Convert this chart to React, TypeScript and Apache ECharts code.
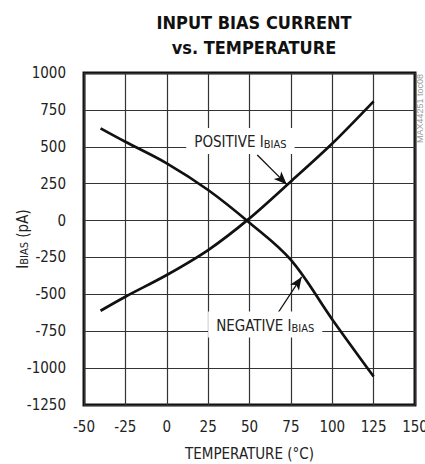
import React, { useEffect, useRef } from "react";
import * as echarts from "echarts";

const positiveTemps = [-40, -25, 0, 25, 50, 75, 100, 125];
const positiveBias = [-611, -516, -369, -200, 15, 265, 522, 808];

const negativeTemps = [-40, -25, 0, 25, 50, 75, 100, 125];
const negativeBias = [625, 534, 388, 207, -15, -267, -670, -1057];

const xTicks = { min: -50, max: 150, interval: 25 };
const yTicks = { min: -1250, max: 1000, interval: 250 };

// annotation anchors in data space: [temperature, pA]
const positiveLabelAt = [44.5, 540];
const positiveArrow = [[54.7, 444], [72.5, 245]];
const negativeLabelAt = [59.5, -705];
const negativeArrow = [[64.4, -674], [81.5, -382]];

const FONT = "'Liberation Sans Narrow', 'DejaVu Sans Condensed', 'Liberation Sans', sans-serif";

export default function App() {
  const ref = useRef<HTMLDivElement>(null);
  useEffect(() => {
    document.body.style.margin = "0";
    const chart = echarts.init(ref.current!, null, { renderer: "svg" });
    const richLabel = {
      m: { fontSize: 15, fontFamily: FONT, color: "#222", lineHeight: 18, verticalAlign: "bottom" },
      s: { fontSize: 11, fontFamily: FONT, color: "#222", lineHeight: 11, verticalAlign: "bottom" },
    };
    const annotationLabel = (text: string) => ({
      show: true,
      position: "inside",
      formatter: text,
      backgroundColor: "#fff",
      padding: [4, 8, 4, 8],
      rich: richLabel,
    });
    chart.setOption({
      animation: false,
      backgroundColor: "#fff",
      title: {
        text: "INPUT BIAS CURRENT\nvs. TEMPERATURE",
        left: 249,
        textAlign: "center",
        top: 5,
        textStyle: {
          fontFamily: FONT,
          fontWeight: "bold",
          fontSize: 18,
          lineHeight: 25,
          color: "#111",
        },
      },
      grid: {
        left: 84,
        right: 10,
        top: 73,
        bottom: 59,
        containLabel: false,
        outerBoundsMode: "none",
        show: true,
        borderColor: "#111",
        borderWidth: 3,
        backgroundColor: "transparent",
      },
      xAxis: {
        type: "value",
        min: xTicks.min,
        max: xTicks.max,
        interval: xTicks.interval,
        name: "TEMPERATURE (°C)",
        nameLocation: "middle",
        nameGap: 41,
        nameMoveOverlap: false,
        nameTextStyle: { fontFamily: FONT, fontSize: 15, color: "#222" },
        axisLine: { show: false },
        axisTick: { show: false },
        axisLabel: {
          fontFamily: FONT,
          fontSize: 15,
          color: "#222",
          margin: 14,
          showMinLabel: true,
          showMaxLabel: true,
          formatter: (v: number) => String(v),
        },
        splitLine: { show: true, lineStyle: { color: "#333", width: 1.2 } },
      },
      yAxis: {
        type: "value",
        min: yTicks.min,
        max: yTicks.max,
        interval: yTicks.interval,
        name: "{i|I}{s|BIAS}{i| (pA)}",
        nameLocation: "middle",
        nameGap: 54,
        nameMoveOverlap: false,
        nameTextStyle: {
          rich: {
            i: { fontFamily: FONT, fontSize: 15, color: "#222", lineHeight: 18, verticalAlign: "bottom" },
            s: { fontFamily: FONT, fontSize: 11, color: "#222", lineHeight: 11, verticalAlign: "bottom" },
          },
        },
        axisLine: { show: false },
        axisTick: { show: false },
        axisLabel: {
          fontFamily: FONT,
          fontSize: 15,
          color: "#222",
          margin: 18,
          formatter: (v: number) => String(v),
        },
        splitLine: { show: true, lineStyle: { color: "#333", width: 1.2 } },
      },
      graphic: [
        {
          type: "text",
          x: 420,
          y: 74,
          rotation: Math.PI / 2,
          style: {
            text: "MAX44251 toc08",
            fontFamily: "'Liberation Sans', sans-serif",
            fontSize: 9,
            fill: "#999",
            align: "right",
            verticalAlign: "middle",
          },
        },
      ],
      series: [
        {
          name: "POSITIVE",
          type: "line",
          data: positiveTemps.map((t, i) => [t, positiveBias[i]]),
          smooth: 0.3,
          symbol: "none",
          lineStyle: { color: "#111", width: 2.7 },
          z: 3,
          markLine: {
            silent: true,
            symbol: ["none", "arrow"],
            symbolSize: [8, 13],
            label: { show: false },
            lineStyle: { color: "#111", width: 1.3, type: "solid" },
            data: [[{ coord: positiveArrow[0] }, { coord: positiveArrow[1] }]],
          },
          markPoint: {
            silent: true,
            symbol: "rect",
            symbolSize: 1,
            itemStyle: { color: "transparent" },
            label: annotationLabel("{m|POSITIVE I}{s|BIAS}"),
            data: [{ coord: positiveLabelAt }],
          },
        },
        {
          name: "NEGATIVE",
          type: "line",
          data: negativeTemps.map((t, i) => [t, negativeBias[i]]),
          smooth: 0.35,
          symbol: "none",
          lineStyle: { color: "#111", width: 2.7 },
          z: 3,
          markLine: {
            silent: true,
            symbol: ["none", "arrow"],
            symbolSize: [8, 13],
            label: { show: false },
            lineStyle: { color: "#111", width: 1.3, type: "solid" },
            data: [[{ coord: negativeArrow[0] }, { coord: negativeArrow[1] }]],
          },
          markPoint: {
            silent: true,
            symbol: "rect",
            symbolSize: 1,
            itemStyle: { color: "transparent" },
            label: annotationLabel("{m|NEGATIVE I}{s|BIAS}"),
            data: [{ coord: negativeLabelAt }],
          },
        },
      ],
    });
    return () => chart.dispose();
  }, []);
  return <div ref={ref} style={{ width: 425, height: 464 }} />;
}
